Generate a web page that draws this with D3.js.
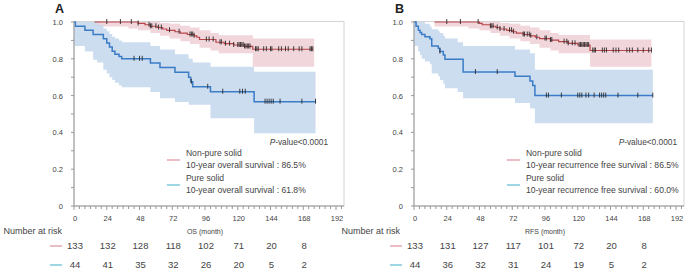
<!DOCTYPE html>
<html>
<head>
<meta charset="utf-8">
<script src="https://cdnjs.cloudflare.com/ajax/libs/d3/7.8.5/d3.min.js"></script>
<style>
  body { margin: 0; background: #fff; }
  svg { font-family: "Liberation Sans", Arial, sans-serif; }
</style>
</head>
<body>
<svg id="chart" width="686" height="273"></svg>
<script>
// ---- data ----
const monthTicks = [0, 24, 48, 72, 96, 120, 144, 168, 192];
const survTicks = [0, 0.2, 0.4, 0.6, 0.8, 1.0];

// panel A (OS)
const osNonPure = [[15,1],[47,0.992],[52,0.985],[56,0.977],[61,0.97],[65,0.962],[68,0.955],[74,0.947],[78,0.94],[83,0.932],[88,0.925],[90,0.917],[92,0.905],[104,0.89],[110,0.882],[117,0.875],[125,0.867],[131,0.852],[175,0.852]];
const osNonPureCI = [[15,0.975,1],[40,0.965,1],[47,0.955,1],[56,0.94,1],[63,0.925,0.995],[70,0.91,0.99],[78,0.895,0.98],[85,0.88,0.97],[92,0.86,0.955],[100,0.845,0.94],[106,0.83,0.928],[131,0.757,0.911],[176,0.757,0.911]];
const osNonPureCens = [24,34,42,47,55,56,57,60,62,64,70,77,85,86,87,88,97,99,102,107,108,111,114,117,120,121,122,123,124,125,126,127,128,129,133,134,135,139,141,144,145,150,152,155,157,161,165,167,173,174,175];
const osPure = [[0,1],[1,0.977],[8,0.955],[14,0.932],[21.5,0.909],[24,0.886],[26,0.864],[28,0.841],[30,0.825],[33,0.812],[35,0.8],[56,0.777],[63,0.753],[74,0.727],[84,0.7],[85.5,0.675],[87,0.648],[100,0.621],[132,0.567],[177,0.567]];
const osPureCI = [[0,0.87,1],[8,0.84,1],[14,0.795,1],[17,0.78,0.985],[21.5,0.74,0.965],[24,0.72,0.95],[26,0.7,0.935],[28,0.685,0.92],[30,0.67,0.91],[33,0.655,0.9],[35,0.645,0.89],[56,0.62,0.87],[63,0.585,0.85],[74,0.565,0.825],[84,0.55,0.8],[87,0.55,0.78],[100,0.477,0.757],[132,0.395,0.73],[177,0.395,0.73]];
const osPureCens = [44,48,50,86,98,109,121.5,123.5,125.5,140,141.5,143,144.5,146,151,167,177];
const osRiskNonPure = [133, 132, 128, 118, 102, 71, 20, 8];
const osRiskPure = [44, 41, 35, 32, 26, 20, 5, 2];

// panel B (RFS)
const rfsNonPure = [[15,1],[48,0.992],[50,0.985],[56,0.977],[60,0.97],[63,0.962],[68,0.955],[72,0.947],[75,0.94],[80,0.932],[85,0.925],[89,0.917],[92,0.91],[100,0.902],[106,0.893],[113,0.884],[120,0.875],[129,0.845],[174,0.845]];
const rfsNonPureCI = [[15,0.975,1],[40,0.965,1],[48,0.955,1],[56,0.94,1],[63,0.925,0.995],[70,0.91,0.99],[78,0.895,0.98],[85,0.88,0.97],[92,0.86,0.955],[100,0.845,0.94],[106,0.83,0.93],[129,0.757,0.905],[174,0.757,0.905]];
const rfsNonPureCens = [24,34,47,56,57,58,61,63,66,70,71.5,73,80,81,83,84.5,85.6,90,96,97,100,101,110,112,113,116,118,121,122,123,124,125,126,127,128,131,132,133,138,139.5,141,146,148,150,156,158,160,164,168,172,174];
const rfsPure = [[0,1],[1.5,0.977],[3.2,0.955],[4.4,0.943],[5.6,0.932],[8,0.92],[11.7,0.909],[13,0.87],[17.8,0.857],[19,0.839],[21.5,0.82],[22.7,0.797],[36,0.728],[74,0.705],[85,0.68],[87,0.655],[88.6,0.6],[175,0.6]];
const rfsPureCI = [[0,0.87,1],[3,0.84,1],[4.4,0.82,1],[5.6,0.8,1],[8,0.785,0.99],[11.7,0.77,0.975],[13,0.72,0.96],[17.8,0.705,0.95],[19,0.685,0.94],[21.5,0.665,0.925],[22.7,0.64,0.91],[32,0.62,0.89],[36,0.585,0.87],[74,0.56,0.85],[85,0.53,0.83],[88.6,0.45,0.74],[175,0.45,0.74]];
const rfsPureCens = [19,45,61,97,98.5,108,120,121.5,123,126,128,132,136,137.5,139,140.5,149.5,164,175];
const rfsRiskNonPure = [133, 131, 127, 117, 101, 72, 20, 8];
const rfsRiskPure = [44, 36, 32, 31, 24, 19, 5, 2];

const RED = '#b8454a', RED_BAND = '#f0d2d7', RED_KEY = '#de8f9b';
const BLUE = '#3a7cc6', BLUE_BAND = '#c7d9ee', BLUE_KEY = '#5bbdd0';
const TXT = '#444';

const svg = d3.select('#chart');

function stepValue(curve, m) {
  let v = curve[0][1];
  curve.forEach(p => { if (p[0] <= m) v = p[1]; });
  return v;
}

function drawPanel(p) {
  const g = svg.append('g').attr('transform', `translate(${p.left},0)`);
  const x = d3.scaleLinear().domain([0, 192]).range([0, 262]);
  const y = d3.scaleLinear().domain([0, 1]).range([206, 22]);

  // frame
  g.append('rect').attr('x', 0).attr('y', 21.5).attr('width', 270).attr('height', 184.5)
    .attr('fill', 'none').attr('stroke', '#d4d4d4');

  const area = d3.area().curve(d3.curveStepAfter)
    .x(d => x(d[0])).y0(d => y(d[1])).y1(d => y(d[2]));
  const line = d3.line().curve(d3.curveStepAfter)
    .x(d => x(d[0])).y(d => y(d[1]));

  g.append('path').datum(p.redCI).attr('d', area).attr('fill', RED_BAND).attr('opacity', 0.9);
  g.append('path').datum(p.blueCI).attr('d', area).attr('fill', BLUE_BAND).attr('opacity', 0.9);

  g.append('path').datum(p.red).attr('d', line).attr('fill', 'none')
    .attr('stroke', RED).attr('stroke-width', 1.2);
  g.append('path').datum(p.blue).attr('d', line).attr('fill', 'none')
    .attr('stroke', BLUE).attr('stroke-width', 1.5);

  [[p.redCens, p.red], [p.blueCens, p.blue]].forEach(([cens, curve]) => {
    g.append('g').selectAll('line').data(cens).join('line')
      .attr('x1', d => x(d)).attr('x2', d => x(d))
      .attr('y1', d => y(stepValue(curve, d)) - 3)
      .attr('y2', d => y(stepValue(curve, d)) + 2)
      .attr('stroke', '#2a2a2a').attr('stroke-width', 0.9);
  });

  // axes
  const xAxis = g.append('g').attr('transform', 'translate(0,206)');
  xAxis.append('line').attr('x1', 0).attr('x2', 270).attr('stroke', '#999');
  xAxis.selectAll('.minor').data(d3.range(0, 197, 4)).join('line')
    .attr('x1', d => x(d)).attr('x2', d => x(d)).attr('y1', 0).attr('y2', d => d % 24 === 0 ? 4 : 3)
    .attr('stroke', '#999');
  xAxis.selectAll('text').data(monthTicks).join('text')
    .attr('x', d => x(d) + 1).attr('y', 15).attr('text-anchor', 'middle')
    .attr('font-size', 7.5).attr('fill', TXT).text(d => d);

  const yAxis = g.append('g');
  yAxis.append('line').attr('x1', 0).attr('x2', 0).attr('y1', 21.5).attr('y2', 206).attr('stroke', '#999');
  yAxis.selectAll('.tk').data(d3.range(0, 11)).join('line')
    .attr('x1', -3).attr('x2', 0).attr('y1', d => y(d / 10)).attr('y2', d => y(d / 10))
    .attr('stroke', '#999');
  yAxis.selectAll('text').data(survTicks).join('text')
    .attr('x', -11).attr('y', d => y(d) + 3).attr('text-anchor', 'end')
    .attr('font-size', 7.5).attr('fill', TXT).text(d => d === 0 ? '0' : d.toFixed(1));

  g.append('text').attr('x', x(96)).attr('y', 234).attr('text-anchor', 'middle')
    .attr('font-size', 7).attr('fill', TXT).text(p.xTitle);

  g.append('text').attr('x', -19).attr('y', 13).attr('font-size', 12.5).attr('font-weight', 'bold')
    .attr('fill', '#222').text(p.letter);

  // legend
  const lx = x(82);
  g.append('text').attr('x', p.pRight).attr('y', 145).attr('text-anchor', 'end')
    .attr('font-size', 8.3).attr('fill', TXT)
    .call(t => { t.append('tspan').attr('font-style', 'italic').text('P'); t.append('tspan').text('-value<0.0001'); });
  [[p.redLabel, p.redSurv, RED_KEY, 156], [p.blueLabel, p.blueSurv, BLUE_KEY, 181]].forEach(([name, surv, col, ty]) => {
    g.append('line').attr('x1', lx - 19).attr('x2', lx - 6).attr('y1', ty + 4).attr('y2', ty + 4)
      .attr('stroke', col).attr('stroke-width', 1.2);
    g.append('text').attr('x', lx).attr('y', ty).attr('font-size', 8.6).attr('fill', TXT).text(name);
    g.append('text').attr('x', lx).attr('y', ty + 12).attr('font-size', 8.6).attr('fill', TXT).text(surv);
  });

  // number at risk
  g.append('text').attr('x', p.narRight).attr('y', 234).attr('text-anchor', 'end')
    .attr('font-size', 9).attr('fill', TXT).text('Number at risk');
  [[p.riskRed, RED_KEY, 249], [p.riskBlue, BLUE_KEY, 268]].forEach(([vals, col, ty]) => {
    g.append('line').attr('x1', -24).attr('x2', -12).attr('y1', ty - 3).attr('y2', ty - 3)
      .attr('stroke', col).attr('stroke-width', 1.2);
    g.selectAll(null).data(vals).join('text')
      .attr('x', (d, i) => x(monthTicks[i]) + 1).attr('y', ty).attr('text-anchor', 'middle')
      .attr('font-size', 9.5).attr('fill', TXT).text(d => d);
  });
}

drawPanel({
  left: 74, letter: 'A', xTitle: 'OS (month)', pRight: 254, narRight: -12,
  red: osNonPure, redCI: osNonPureCI, redCens: osNonPureCens,
  blue: osPure, blueCI: osPureCI, blueCens: osPureCens,
  redLabel: 'Non-pure solid', redSurv: '10-year overall survival : 86.5%',
  blueLabel: 'Pure solid', blueSurv: '10-year overall survival : 61.8%',
  riskRed: osRiskNonPure, riskBlue: osRiskPure
});
drawPanel({
  left: 414, letter: 'B', xTitle: 'RFS (month)', pRight: 263, narRight: -14,
  red: rfsNonPure, redCI: rfsNonPureCI, redCens: rfsNonPureCens,
  blue: rfsPure, blueCI: rfsPureCI, blueCens: rfsPureCens,
  redLabel: 'Non-pure solid', redSurv: '10-year recurrence  free survival : 86.5%',
  blueLabel: 'Pure solid', blueSurv: '10-year recurrence  free survival : 60.0%',
  riskRed: rfsRiskNonPure, riskBlue: rfsRiskPure
});
</script>
</body>
</html>
